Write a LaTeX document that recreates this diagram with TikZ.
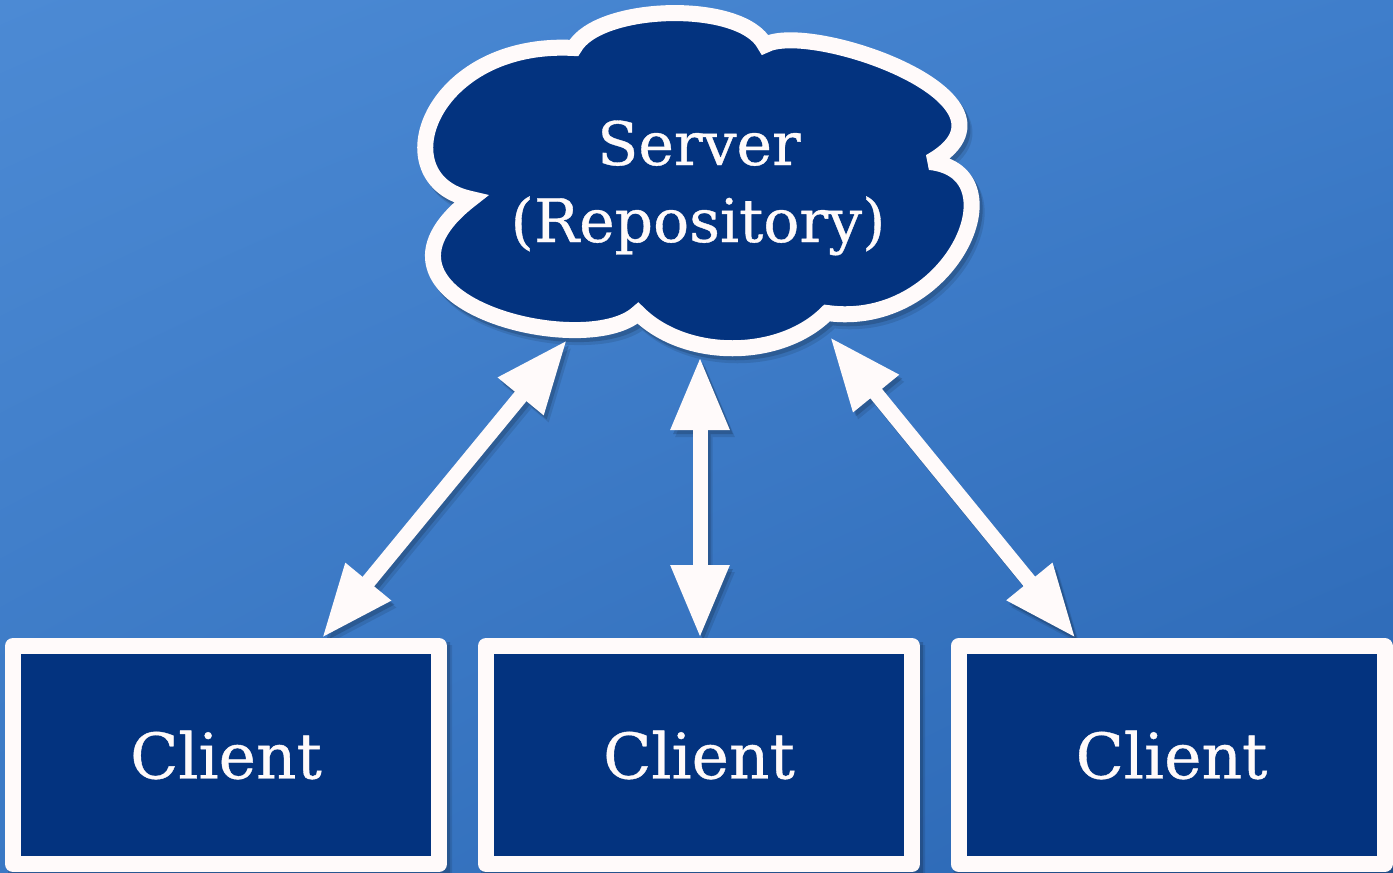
\documentclass[tikz,border=0pt]{standalone}
\usepackage{fontspec}
\setmainfont{DejaVu Serif}
\newfontfamily\slabfont{DejaVu Serif}[FakeBold=0.6]
\usetikzlibrary{arrows.meta,calc,shadings}
\definecolor{navy}{HTML}{03337F}
\definecolor{bgUL}{HTML}{4C8AD4}
\definecolor{bgUR}{HTML}{3F7ECB}
\definecolor{bgLL}{HTML}{3A78C4}
\definecolor{bgLR}{HTML}{2A66B3}
\definecolor{offwhite}{HTML}{FFFAFA}
\pgfdeclarelayer{bgshade}
\pgfdeclarelayer{shadowlayer}
\pgfsetlayers{bgshade,shadowlayer,main}
\newcommand\cloudshape{(574,48) .. controls (598,4) and (742,0) .. (765,45)
  .. controls (810,20) and (1040,100) .. (930,162)
  .. controls (1022,172) and (950,330) .. (827,313)
  .. controls (780,360) and (685,360) .. (638,313)
  .. controls (585,362) and (340,300) .. (471,199)
  .. controls (380,180) and (430,40) .. (574,48) -- cycle}
\tikzset{
  client/.style={draw=offwhite, line width=16pt, fill=navy, minimum width=426pt,
    minimum height=218pt, inner sep=0pt, text=offwhite, line join=round,
    font=\slabfont\fontsize{63}{70}\selectfont},
  srvtext/.style={text=offwhite, anchor=base, inner sep=0pt,
    font=\slabfont\fontsize{60}{70}\selectfont},
  arr/.style={draw=offwhite, line width=15pt,
    {Triangle[length=73pt,width=55pt]}-{Triangle[length=73pt,width=55pt]}},
  shadowarr/.style={draw=black, line width=15pt,
    {Triangle[length=73pt,width=55pt]}-{Triangle[length=73pt,width=55pt]}}
}
\begin{document}
\begin{tikzpicture}[x=1pt,y=-1pt]
\useasboundingbox (0,0) rectangle (1393,873);
\begin{pgfonlayer}{bgshade}
\shade[upper left=bgUL, upper right=bgUR, lower left=bgLL, lower right=bgLR]
  (0,0) rectangle (1393,873);
\end{pgfonlayer}

% client boxes
\node[client] (k1) at (226,755) {Client};
\node[client] (k2) at (699,755) {Client};
\node[client] (k3) at (1171.5,755) {Client};

% arrow endpoints on the cloud
\coordinate (sL) at (567,340);
\coordinate (sM) at (700,357);
\coordinate (sR) at (830,337);

\begin{pgfonlayer}{shadowlayer}
\foreach \dx/\dy/\op in {5/7/.10, 3/4/.16}{
\begin{scope}[transparency group, opacity=\op]
  \foreach \c in {k1,k2,k3}{
    \fill ($(\c.south west)+(\dx,\dy)$) rectangle ($(\c.north east)+(\dx,\dy)$);
  }
  \draw[shadowarr] ($(sL)+(\dx,\dy)$) -- ($(k1.north)+(96+\dx,\dy)$);
  \draw[shadowarr] ($(sM)+(\dx,\dy)$) -- ($(k2.north)+(1+\dx,\dy)$);
  \draw[shadowarr] ($(sR)+(\dx,\dy)$) -- ($(k3.north)+(-96+\dx,\dy)$);
  \filldraw[black, line width=16pt, line join=round, shift={(\dx,\dy)}] \cloudshape;
\end{scope}
}
\end{pgfonlayer}

% arrows
\draw[arr] (sL) -- ([xshift=96pt]k1.north);
\draw[arr] (sM) -- ([xshift=1pt]k2.north);
\draw[arr] (sR) -- ([xshift=-96pt]k3.north);

% cloud
\filldraw[draw=offwhite, fill=navy, line width=16pt, line join=miter, miter limit=2.6] \cloudshape;

\node[srvtext] (srv) at (699,165) {Server};
\node[srvtext] (repo) at (698,242) {(Repository)};
\end{tikzpicture}
\end{document}
